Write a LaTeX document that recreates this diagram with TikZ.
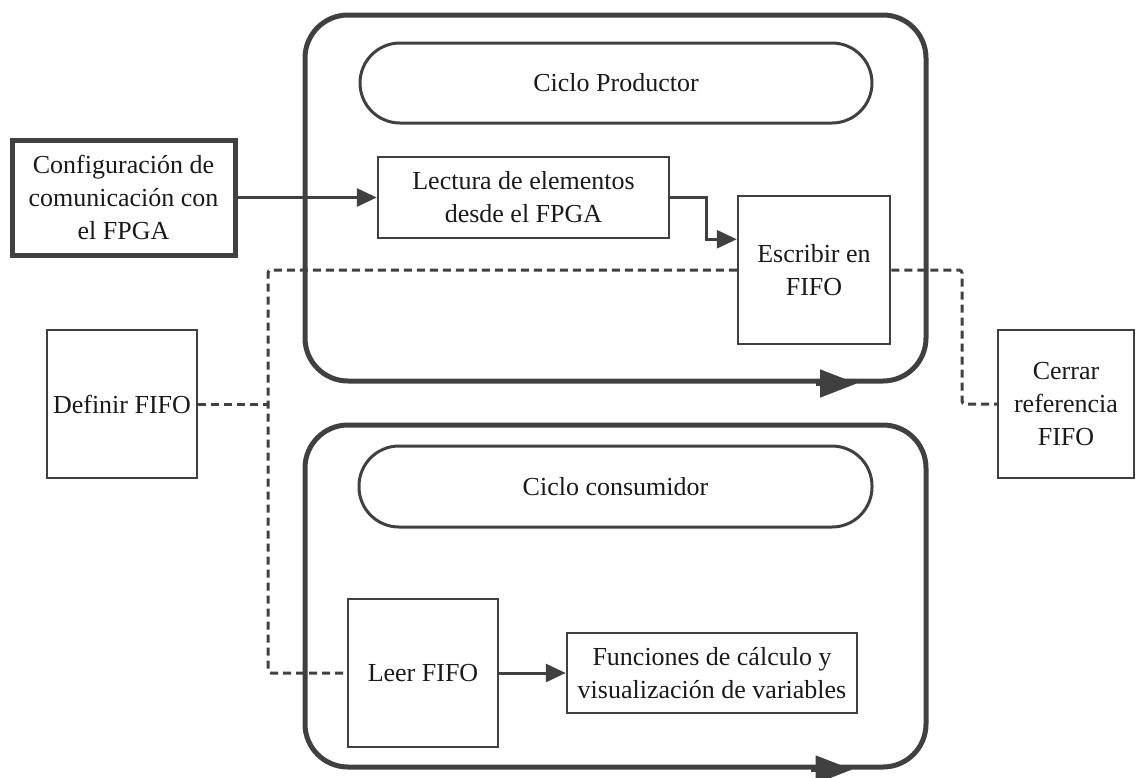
\documentclass[tikz,border=0pt]{standalone}
\usepackage{fontspec}
\setmainfont{Liberation Serif}
\usetikzlibrary{arrows.meta,calc}

\definecolor{ink}{HTML}{404040}
\definecolor{txt}{HTML}{1A1A1A}

\tikzset{
  every node/.style={text=txt, font=\fontsize{26}{33}\selectfont, align=center, inner sep=0pt},
  loopbox/.style={draw=ink, line width=5pt, rounded corners=43pt},
  pill/.style={draw=ink, line width=3pt, rounded corners=40pt},
  stepbox/.style={draw=ink, line width=2.5pt},
  heavybox/.style={draw=ink, line width=5pt},
  flow/.style={draw=ink, line width=3pt, -{Triangle[length=20pt,width=18pt]}},
  fifolink/.style={draw=ink, line width=3pt, dash pattern=on 8pt off 5pt, rounded corners=3pt},
  looptip/.style={draw=ink, line width=5pt, -{Triangle[length=37pt,width=27pt]}}
}

\begin{document}
\begin{tikzpicture}[x=1pt,y=-1pt]
  \useasboundingbox (0,0) rectangle (1141,777);

  % producer and consumer loops
  \node[loopbox, minimum width=621pt, minimum height=366pt] (prod) at (615.5,198) {};
  \node[loopbox, minimum width=621pt, minimum height=342pt] (cons) at (615.5,596) {};
  \draw[looptip] ($(prod.south)+(200,0)$) -- ($(prod.south)+(241.5,0)$);
  \draw[looptip] ($(cons.south)+(195,0)$) -- ($(cons.south)+(237,0)$);

  % loop titles
  \node[pill, minimum width=512pt, minimum height=80pt] (ptitle) at (616,83) {Ciclo Productor};
  \node[pill, minimum width=513pt, minimum height=81pt] (ctitle) at (615.5,486.5) {Ciclo consumidor};

  % blocks
  \node[heavybox, minimum width=223pt, minimum height=115pt] (config) at (123.5,197.5)
    {Configuración de\\comunicación con\\el FPGA};
  \node[stepbox, minimum width=291pt, minimum height=81pt] (lectura) at (523.5,197.5)
    {Lectura de elementos\\desde el FPGA};
  \node[stepbox, minimum width=152pt, minimum height=148pt] (escribir) at (814,270)
    {Escribir en\\FIFO};
  \node[stepbox, minimum width=150pt, minimum height=148pt] (definir) at (122,404)
    {Definir FIFO};
  \node[stepbox, minimum width=136pt, minimum height=148pt] (cerrar) at (1066,404)
    {Cerrar\\referencia\\FIFO};
  \node[stepbox, minimum width=150pt, minimum height=148pt] (leer) at (423,673)
    {Leer FIFO};
  \node[stepbox, minimum width=290pt, minimum height=80pt] (funciones) at (712,673)
    {Funciones de cálculo y\\visualización de variables};

  % data flow
  \draw[flow] (config.east) -- (lectura.west);
  \draw[flow] (lectura.east) -- ++(36,0) |- (escribir.west |- lectura.south);
  \draw[flow] (leer.east) -- (funciones.west);

  % FIFO reference wires
  \coordinate (split) at (268,404);
  \coordinate (turn) at (962,270);
  \draw[fifolink] (escribir.west) -| (split) |- (leer.west);
  \draw[fifolink] (definir.east) -- (split);
  \draw[fifolink] (escribir.east) -- (turn) |- (cerrar.west);
\end{tikzpicture}
\end{document}
